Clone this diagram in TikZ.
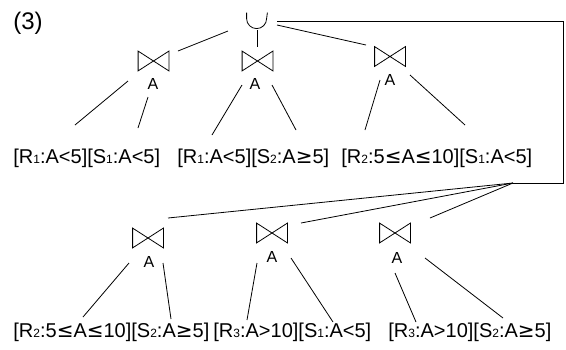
\documentclass[tikz,border=0pt]{standalone}
\usepackage{fontspec}
\setmainfont{Liberation Sans}
\newfontfamily\symfont{DejaVu Sans}
\newcommand\subd[1]{{\fontsize{12pt}{12pt}\selectfont #1}}
\newcommand\lle{{\symfont ≤}}
\newcommand\gge{{\symfont ≥}}
\begin{document}
\begin{tikzpicture}[x=1pt,y=-1pt,line width=0.8pt,
  bowtie/.style={minimum width=30pt,minimum height=19pt,inner sep=0pt},
  lab/.style={font=\fontsize{16pt}{16pt}\selectfont,inner sep=0pt},
  leaf/.style={font=\fontsize{20pt}{20pt}\selectfont,inner sep=0pt,anchor=base west},
  unionnode/.style={minimum width=20pt,minimum height=16pt,inner sep=0pt}]
\useasboundingbox (0,0) rectangle (566,349);
\node[font=\fontsize{24pt}{24pt}\selectfont,inner sep=0pt] (title) at (28,23) {(3)};
% union
\node[unionnode] (u) at (257,21) {};
\draw (u.north west) -- ++(0,6) arc[start angle=180,end angle=0,radius=10] -- (u.north east);
% joins
\node[bowtie] (j1) at (153.5,61) {};
\node[bowtie] (j2) at (257.5,61) {};
\node[bowtie] (j3) at (390,56.5) {};
\node[bowtie] (j4) at (148,238) {};
\node[bowtie] (j5) at (272,233) {};
\node[bowtie] (j6) at (395,233) {};
\foreach \j in {j1,j2,j3,j4,j5,j6}
  \draw (\j.north west) -- (\j.south east) -- (\j.north east) -- (\j.south west) -- cycle;
\node[lab] (a1) at (153,84) {A};
\node[lab] (a2) at (255,84) {A};
\node[lab] (a3) at (390,80) {A};
\node[lab] (a4) at (149,262) {A};
\node[lab] (a5) at (272,257) {A};
\node[lab] (a6) at (397,258) {A};
% leaves
\node[leaf] (l1) at (13,163) {[R\subd{1}:A<5][S\subd{1}:A<5]};
\node[leaf] (l2) at (177,163) {[R\subd{1}:A<5][S\subd{2}:A\gge5]};
\node[leaf] (l3) at (341,163) {[R\subd{2}:5\lle A\lle10][S\subd{1}:A<5]};
\node[leaf] (l4) at (13,337) {[R\subd{2}:5\lle A\lle10][S\subd{2}:A\gge5]};
\node[leaf] (l5) at (213,337) {[R\subd{3}:A>10][S\subd{1}:A<5]};
\node[leaf] (l6) at (388,337) {[R\subd{3}:A>10][S\subd{2}:A\gge5]};
% connector end points
\coordinate (u1) at (228,31); \coordinate (t1) at (178,51);
\coordinate (u2) at (257,30); \coordinate (t2) at (257,47);
\coordinate (u3) at (277,25); \coordinate (t3) at (366,45);
\coordinate (b0) at (277,21.5); \coordinate (b1) at (563,21.5);
\coordinate (b2) at (563,183); \coordinate (hub) at (513,183);
\coordinate (t4) at (168,218); \coordinate (t5) at (301,223); \coordinate (t6) at (430,218);
\draw (u1) -- (t1);
\draw (u2) -- (t2);
\draw (u3) -- (t3);
\draw (b0) -- (b1) -- (b2) -- (hub);
\draw (hub) -- (t4);
\draw (hub) -- (t5);
\draw (hub) -- (t6);
% leaf connectors top
\draw (128,81) -- (75,125);
\draw (148,97) -- (138,128);
\draw (242,85) -- (212,135);
\draw (272,85) -- (296,130);
\draw (380,80) -- (365,130);
\draw (410,75) -- (465,125);
% leaf connectors bottom
\draw (129,263) -- (83,317);
\draw (163,263) -- (171,319);
\draw (257,263) -- (247,320);
\draw (291,258) -- (333,322);
\draw (395,273) -- (416,322);
\draw (425,258) -- (503,318);
\end{tikzpicture}
\end{document}
